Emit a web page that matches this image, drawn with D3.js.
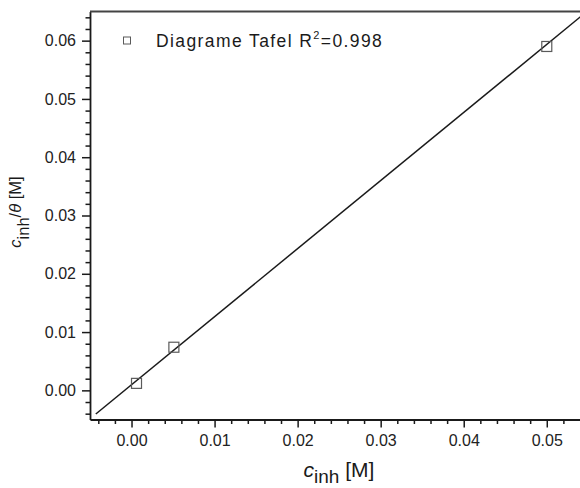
<!DOCTYPE html>
<html>
<head>
<meta charset="utf-8">
<script src="https://cdn.jsdelivr.net/npm/d3@7"></script>
<style>
  html, body { margin: 0; padding: 0; background: #fff; }
  svg { display: block; font-family: "Liberation Sans", Arial, sans-serif; }
</style>
</head>
<body>
<svg id="chart" width="580" height="488"></svg>
<script>
// Measured points: inhibitor concentration vs. c/θ
const concentrations = [0.0006, 0.0051, 0.050];
const ratios = [0.0012, 0.0074, 0.0590];

// Linear fit (Tafel)
const fitSlope = 1.168;
const fitIntercept = 0.00096;
const fitRange = [-0.0043, 0.0545];

const xTicks = [0.00, 0.01, 0.02, 0.03, 0.04, 0.05];
const yTicks = [0.00, 0.01, 0.02, 0.03, 0.04, 0.05, 0.06];
const xMinorTicks = [-0.004, -0.002, 0.002, 0.004, 0.006, 0.008, 0.012, 0.014, 0.016, 0.018,
  0.022, 0.024, 0.026, 0.028, 0.032, 0.034, 0.036, 0.038, 0.042, 0.044, 0.046, 0.048, 0.052];
const yMinorTicks = [-0.004, -0.002, 0.002, 0.004, 0.006, 0.008, 0.012, 0.014, 0.016, 0.018,
  0.022, 0.024, 0.026, 0.028, 0.032, 0.034, 0.036, 0.038, 0.042, 0.044, 0.046, 0.048,
  0.052, 0.054, 0.056, 0.058, 0.062, 0.064];

const legendText = "Diagrame Tafel R";
const legendSup = "2";
const legendTail = "=0.998";

const svg = d3.select("#chart");
const plotLeft = 90, plotRight = 580, plotTop = 11.5, plotBottom = 419.5;

const x = d3.scaleLinear().domain([-0.005, 0.054]).range([plotLeft, plotRight]);
const y = d3.scaleLinear().domain([-0.005, 0.065]).range([plotBottom, plotTop]);

const fmt = d3.format(".2f");

// Fit line, clipped to the plot area
svg.append("clipPath").attr("id", "plotClip")
  .append("rect").attr("x", plotLeft).attr("y", plotTop)
  .attr("width", plotRight - plotLeft).attr("height", plotBottom - plotTop);

const fitPts = fitRange.map(v => [v, fitIntercept + fitSlope * v]);
svg.append("path")
  .attr("clip-path", "url(#plotClip)")
  .attr("d", d3.line().x(d => x(d[0])).y(d => y(d[1]))(fitPts))
  .attr("fill", "none").attr("stroke", "#1a1a1a").attr("stroke-width", 1.5);

// Data markers
svg.append("g").selectAll("rect")
  .data(concentrations.map((c, i) => [c, ratios[i]]))
  .join("rect")
  .attr("x", d => x(d[0]) - 5).attr("y", d => y(d[1]) - 5)
  .attr("width", 10).attr("height", 10)
  .attr("fill", "none").attr("stroke", "#5a5a5a").attr("stroke-width", 1.2);

// Axes
const axisColor = "#1a1a1a";
const xAxis = svg.append("g").attr("transform", `translate(0,${plotBottom})`)
  .call(d3.axisBottom(x).tickValues(xTicks).tickFormat(fmt).tickSizeInner(8).tickSizeOuter(0).tickPadding(7));
const xMinor = svg.append("g").attr("transform", `translate(0,${plotBottom})`)
  .call(d3.axisBottom(x).tickValues(xMinorTicks).tickFormat("").tickSizeInner(4.5).tickSizeOuter(0));
const yAxis = svg.append("g").attr("transform", `translate(${plotLeft},0)`)
  .call(d3.axisLeft(y).tickValues(yTicks).tickFormat(fmt).tickSizeInner(8).tickSizeOuter(0).tickPadding(6));
const yMinor = svg.append("g").attr("transform", `translate(${plotLeft},0)`)
  .call(d3.axisLeft(y).tickValues(yMinorTicks).tickFormat("").tickSizeInner(4.5).tickSizeOuter(0));

[xAxis, xMinor, yAxis, yMinor].forEach(g => {
  g.select(".domain").attr("stroke", axisColor).attr("stroke-width", 1.8);
  g.selectAll(".tick line").attr("stroke", axisColor).attr("stroke-width", 1.5);
  g.selectAll(".tick text").attr("fill", "#222").attr("font-size", "16px")
    .attr("font-family", "'Liberation Sans', Arial, sans-serif");
});
xMinor.select(".domain").remove();
yMinor.select(".domain").remove();

// Top frame line
svg.append("line")
  .attr("x1", plotLeft).attr("x2", plotRight).attr("y1", plotTop).attr("y2", plotTop)
  .attr("stroke", "#444").attr("stroke-width", 1.8);

// Legend
const lg = svg.append("g");
lg.append("rect").attr("x", 123.5).attr("y", 37).attr("width", 7).attr("height", 7)
  .attr("fill", "none").attr("stroke", "#5a5a5a").attr("stroke-width", 1);
const lt = lg.append("text").attr("x", 156).attr("y", 47)
  .attr("font-size", "17.5px").attr("letter-spacing", "1.4px").attr("fill", "#1a1a1a");
lt.append("tspan").text(legendText);
lt.append("tspan").text(legendSup).attr("font-size", "11px").attr("dy", -8);
lt.append("tspan").text(legendTail).attr("dy", 8);

// Axis titles
const xg = svg.append("g").attr("transform", "translate(339,477)");
const xt = xg.append("text").attr("fill", "#1a1a1a").attr("text-anchor", "middle").attr("font-size", "21px");
xt.append("tspan").text("c").attr("font-style", "italic");
xt.append("tspan").text("inh").attr("dy", 6).attr("font-size", "19px");
xt.append("tspan").text("\u00a0[M]").attr("dy", -6);

const yg = svg.append("g").attr("transform", "translate(21,212) rotate(-90)");
const yt = yg.append("text").attr("fill", "#1a1a1a").attr("text-anchor", "middle").attr("font-size", "16.5px");
yt.append("tspan").text("c").attr("font-style", "italic");
yt.append("tspan").text("inh").attr("dy", 8);
yt.append("tspan").text("/").attr("dy", -8);
yt.append("tspan").text("\u03b8").attr("font-style", "italic");
yt.append("tspan").text("\u00a0[M]");
</script>
</body>
</html>
